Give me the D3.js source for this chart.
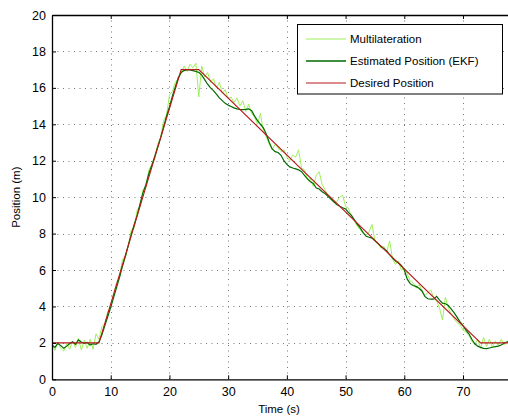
<!DOCTYPE html>
<html>
<head>
<meta charset="utf-8">
<script src="https://d3js.org/d3.v7.min.js"></script>
<style>
  body { margin: 0; background: #fff; }
  text { font-family: "Liberation Sans", Arial, sans-serif; fill: #000; }
</style>
</head>
<body>
<script>
var width = 508,
    height = 417;

// sample step (s) of the measured series
var step = 0.5;

var multilateration = [
  1.9, 1.6, 2.05, 1.7, 1.55, 1.95, 1.65, 2.1, 1.75, 2.25,
  1.6, 2.15, 1.7, 2.2, 1.65, 2.5, 2.2, 2.9, 3.05, 3.7,
  4.0, 4.7, 5.3, 5.6, 6.6, 6.7, 7.4, 8.2, 8.3, 9.3,
  9.5, 10.4, 10.6, 11.5, 11.8, 12.1, 12.9, 13.3, 14.2, 14.5,
  15.6, 15.8, 16.3, 16.5, 16.8, 17.2, 16.9, 17.3, 17.1, 17.35,
  15.5, 17.2, 16.6, 16.85, 16.3, 16.5, 16.0, 16.3, 15.7, 15.9,
  15.4, 15.5, 15.2, 15.45, 15.0, 15.3, 14.7, 15.1, 14.6, 14.4,
  14.0, 14.6, 13.6, 13.3, 12.9, 12.6, 12.9, 12.7, 12.5, 12.6,
  12.2, 12.0, 12.3, 12.2, 12.6, 11.6, 11.5, 11.0, 11.0, 10.6,
  11.2, 11.4, 10.7, 10.4, 10.1, 9.9, 9.7, 9.75, 10.0, 10.1,
  9.5, 9.4, 8.9, 8.7, 8.4, 8.2, 8.0, 7.9, 8.1, 8.5,
  7.6, 7.5, 7.2, 7.3, 7.0, 7.6, 6.6, 6.3, 6.5, 6.0,
  6.1, 5.8, 5.4, 5.3, 5.0, 5.2, 4.9, 4.6, 4.75, 4.9,
  4.5, 4.3, 3.9, 3.25, 4.5, 3.9, 3.6, 3.3, 3.1, 3.0,
  2.7, 2.6, 2.4, 2.1, 1.9, 2.2, 1.7, 2.3, 1.8, 2.2,
  1.75, 2.1, 1.85, 2.2, 1.9, 2.1, 2.0
];

var ekf = [
  1.88, 1.75, 1.97, 1.85, 1.70, 1.82, 1.95, 2.06, 1.92, 2.16,
  2.05, 1.97, 2.02, 1.88, 1.95, 1.92, 2.06, 2.45, 2.95, 3.45,
  3.95, 4.50, 5.05, 5.60, 6.20, 6.75, 7.35, 7.95, 8.50, 9.00,
  9.65, 10.25, 10.70, 11.30, 11.75, 12.25, 12.75, 13.25, 13.85, 14.45,
  14.95, 15.55, 16.05, 16.55, 16.85, 16.95, 17.0, 16.98, 16.95, 16.9,
  16.85, 16.7, 16.45, 16.2, 16.0, 15.85, 15.65, 15.45, 15.3, 15.15,
  15.05, 14.98, 14.9, 14.85, 14.82, 14.8, 14.82, 14.85, 14.75, 14.45,
  14.2, 14.0, 13.8, 13.45, 13.0, 12.65, 12.5, 12.45, 12.3, 12.0,
  11.8, 11.66, 11.6, 11.55, 11.5, 11.4, 11.2, 11.0, 10.85, 10.75,
  10.5, 10.45, 10.3, 10.2, 10.05, 9.9, 9.75, 9.6, 9.5, 9.42,
  9.35, 9.15, 9.0, 8.75, 8.5, 8.3, 8.05, 7.85, 7.8, 7.75,
  7.6, 7.45, 7.3, 7.18, 7.05, 6.85, 6.65, 6.5, 6.4, 6.25,
  6.0, 5.5, 5.25, 5.15, 5.1, 5.0, 4.85, 4.55, 4.42, 4.4,
  4.4, 4.55, 4.35, 4.18, 4.15, 4.05, 3.85, 3.65, 3.4, 3.15,
  2.95, 2.7, 2.5, 2.2, 1.95, 1.82, 1.75, 1.7, 1.68, 1.72,
  1.76, 1.79, 1.82, 1.88, 1.98, 2.05, 2.1
];

var desiredTime = [0, 8, 22, 25, 73, 78];
var desiredPos  = [2, 2, 17, 17, 2, 2];

var xTicks = [0, 10, 20, 30, 40, 50, 60, 70];
var yTicks = [0, 2, 4, 6, 8, 10, 12, 14, 16, 18, 20];

var legendNames = ['Multilateration', 'Estimated Position (EKF)', 'Desired Position'];
var colors = ['#9ef05a', '#006a00', '#b8191b'];

var pLeft = 52, pTop = 15, pRight = 510, pBottom = 379.3;

var svg = d3.select('body').append('svg')
    .attr('width', width)
    .attr('height', height);

var x = d3.scaleLinear().domain([0, 78]).range([pLeft, pRight]);
var y = d3.scaleLinear().domain([0, 20]).range([pBottom, pTop]);

svg.append('clipPath').attr('id', 'clip')
  .append('rect')
    .attr('x', pLeft).attr('y', pTop)
    .attr('width', pRight - pLeft).attr('height', pBottom - pTop);

// grid
var grid = svg.append('g')
    .attr('stroke', '#777')
    .attr('stroke-width', 1)
    .attr('stroke-dasharray', '1,4.5');

grid.selectAll('.vg').data(xTicks.slice(1))
  .enter().append('line')
    .attr('x1', function (d) { return Math.round(x(d)) + 0.5; })
    .attr('x2', function (d) { return Math.round(x(d)) + 0.5; })
    .attr('y1', pTop).attr('y2', pBottom);

grid.selectAll('.hg').data(yTicks.slice(1, -1))
  .enter().append('line')
    .attr('y1', function (d) { return Math.round(y(d)) + 0.5; })
    .attr('y2', function (d) { return Math.round(y(d)) + 0.5; })
    .attr('x1', pLeft).attr('x2', pRight);

// series
var series = svg.append('g').attr('clip-path', 'url(#clip)');

var line = d3.line()
    .x(function (d, i) { return x(i * step); })
    .y(function (d) { return y(d); });

series.append('path')
    .attr('d', line(multilateration))
    .attr('fill', 'none')
    .attr('stroke', colors[0])
    .attr('stroke-width', 1);

series.append('path')
    .attr('d', line(ekf))
    .attr('fill', 'none')
    .attr('stroke', colors[1])
    .attr('stroke-width', 1.2);

var desiredLine = d3.line()
    .x(function (d, i) { return x(desiredTime[i]); })
    .y(function (d) { return y(d); });

series.append('path')
    .attr('d', desiredLine(desiredPos))
    .attr('fill', 'none')
    .attr('stroke', colors[2])
    .attr('stroke-width', 1.1);

// axes (matlab style: ticks inside, on all sides)
var xAxis = svg.append('g')
    .attr('transform', 'translate(0,' + pBottom + ')')
    .call(d3.axisBottom(x).tickValues(xTicks).tickSizeInner(-4).tickSizeOuter(0).tickPadding(8));

var xTop = svg.append('g')
    .attr('transform', 'translate(0,' + pTop + ')')
    .call(d3.axisTop(x).tickValues(xTicks).tickSizeInner(-4).tickSizeOuter(0).tickFormat(''));

var yAxis = svg.append('g')
    .attr('transform', 'translate(' + pLeft + ',0)')
    .call(d3.axisLeft(y).tickValues(yTicks).tickSizeInner(-4).tickSizeOuter(0).tickPadding(6));

[xAxis, xTop, yAxis].forEach(function (g) {
  g.select('.domain').attr('stroke', '#000').attr('stroke-width', 1.3);
  g.selectAll('.tick line').attr('stroke', '#000');
  g.selectAll('text')
    .style('font-family', '"Liberation Sans", Arial, sans-serif')
    .style('font-size', '12.5px')
    .attr('fill', '#000');
});

// axis titles
svg.append('text')
    .attr('x', 279).attr('y', 413)
    .attr('text-anchor', 'middle')
    .style('font-size', '11.5px')
    .text('Time (s)');

svg.append('text')
    .attr('transform', 'translate(20,' + ((pTop + pBottom) / 2) + ') rotate(-90)')
    .attr('text-anchor', 'middle')
    .style('font-size', '11.5px')
    .text('Position (m)');

// legend
var legend = svg.append('g');

legend.append('rect')
    .attr('x', 297.5).attr('y', 24.5)
    .attr('width', 205).attr('height', 69.5)
    .attr('fill', '#fff')
    .attr('stroke', '#000')
    .attr('stroke-width', 1);

legendNames.forEach(function (name, i) {
  var ly = 39 + i * 22;
  legend.append('line')
      .attr('x1', 306).attr('x2', 346)
      .attr('y1', ly).attr('y2', ly)
      .attr('stroke', colors[i])
      .attr('stroke-width', i === 1 ? 1.5 : 1);
  legend.append('text')
      .attr('x', 350).attr('y', ly + 4)
      .style('font-size', '11.5px')
      .text(name);
});
</script>
</body>
</html>
